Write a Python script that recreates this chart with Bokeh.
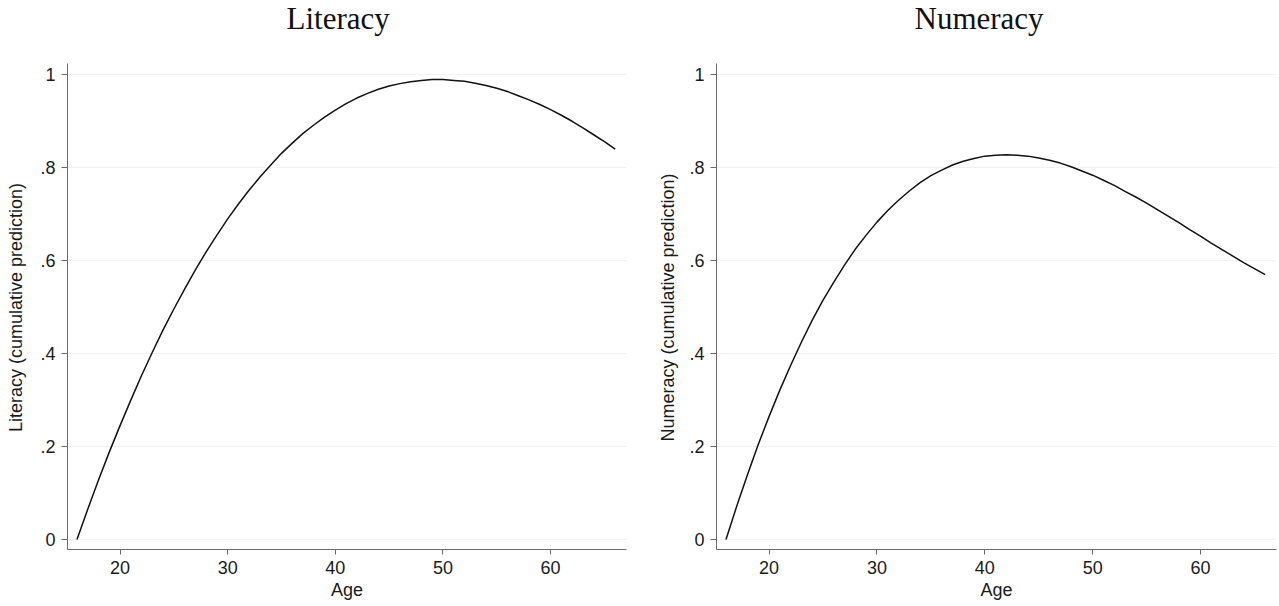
from bokeh.plotting import figure
from bokeh.layouts import row
from bokeh.models import Range1d, FixedTicker, CustomJSTickFormatter, Label
from bokeh.embed import file_html
from bokeh.resources import INLINE

# ---- data ----
ages = list(range(16, 67))
literacy = [0.000, 0.065, 0.128, 0.188, 0.245, 0.300, 0.353, 0.403, 0.451, 0.496,
            0.539, 0.580, 0.619, 0.655, 0.690, 0.722, 0.752, 0.780, 0.806, 0.831,
            0.853, 0.874, 0.892, 0.909, 0.924, 0.938, 0.950, 0.960, 0.969, 0.976,
            0.981, 0.985, 0.988, 0.990, 0.990, 0.988, 0.986, 0.982, 0.977, 0.971,
            0.964, 0.955, 0.946, 0.936, 0.925, 0.913, 0.900, 0.886, 0.871, 0.856,
            0.840]
numeracy = [0.000, 0.072, 0.140, 0.205, 0.265, 0.322, 0.375, 0.425, 0.472, 0.515,
            0.554, 0.591, 0.625, 0.655, 0.683, 0.708, 0.730, 0.750, 0.768, 0.783,
            0.795, 0.806, 0.814, 0.820, 0.825, 0.827, 0.828, 0.827, 0.825, 0.821,
            0.816, 0.810, 0.802, 0.793, 0.784, 0.773, 0.762, 0.749, 0.737, 0.724,
            0.710, 0.696, 0.682, 0.667, 0.653, 0.638, 0.624, 0.610, 0.596, 0.583,
            0.570]
x_ticks = [20, 30, 40, 50, 60]
y_ticks = [0, 0.2, 0.4, 0.6, 0.8, 1.0]
titles = ["Literacy", "Numeracy"]
y_labels = ["Literacy (cumulative prediction)", "Numeracy (cumulative prediction)"]
x_label = "Age"

SANS = "Liberation Sans"
SERIF = "Liberation Serif"

Y_LO, Y_AXIS_TOP, Y_HI = -0.0215, 1.0243, 1.1599
PAD = "\u00a0" * 13  # keeps the rotated axis title centred on the drawn axis, not the taller frame

fmt = CustomJSTickFormatter(code="""
if (Math.abs(tick) < 1e-9) return "0";
if (Math.abs(tick - 1) < 1e-9) return "1";
return tick.toFixed(1).replace(/^0/, "");
""")


def make(yvals, title, ylab, width, bl, br, title_dx, ylab_standoff):
    p = figure(width=width, height=606, output_backend="svg", toolbar_location=None,
               x_range=Range1d(15.12, 67.05), y_range=Range1d(Y_LO, Y_HI),
               min_border_left=bl, min_border_right=br, min_border_top=0,
               min_border_bottom=57, title=None)
    p.outline_line_color = None
    p.background_fill_color = "white"
    p.border_fill_color = "white"
    p.xgrid.visible = False
    p.ygrid.grid_line_color = "#eef2f4"
    p.ygrid.grid_line_width = 1

    for ax in (p.xaxis, p.yaxis):
        ax.axis_line_color = "#6a6a6a"
        ax.axis_line_width = 1
        ax.major_tick_line_color = "#6a6a6a"
        ax.major_tick_in = 0
        ax.minor_tick_line_color = None
        ax.major_label_text_font = SANS
        ax.major_label_text_font_size = "18px"
        ax.major_label_text_color = "#1a1a1a"
        ax.axis_label_text_font = SANS
        ax.axis_label_text_font_size = "18px"
        ax.axis_label_text_font_style = "normal"
        ax.axis_label_text_color = "#1a1a1a"

    p.xaxis.ticker = FixedTicker(ticks=x_ticks)
    p.xaxis.major_tick_out = 5
    p.xaxis.major_label_standoff = 6
    p.xaxis.axis_label = x_label
    p.xaxis.axis_label_standoff = 3

    p.yaxis.ticker = FixedTicker(ticks=y_ticks)
    p.yaxis.formatter = fmt
    p.yaxis.bounds = (Y_LO, Y_AXIS_TOP)
    p.yaxis.major_tick_out = 6
    p.yaxis.major_label_standoff = 6
    p.yaxis.major_label_orientation = "horizontal"
    p.yaxis.axis_label = ylab + PAD
    p.yaxis.axis_label_standoff = ylab_standoff

    p.line(ages, yvals, line_color="#111111", line_width=1.5)

    p.add_layout(Label(x=title_dx, y=530.7, x_units="screen", y_units="screen",
                       text=title, text_font=SERIF, text_font_size="31px",
                       text_color="#111111", text_baseline="alphabetic"))
    return p


p1 = make(literacy, titles[0], y_labels[0], 648, 67, 22, 219, 11)
p2 = make(numeracy, titles[1], y_labels[1], 631, 68, 3, 198, 8)

layout = row(p1, p2)
open("out.html", "w").write(file_html(layout, INLINE))
